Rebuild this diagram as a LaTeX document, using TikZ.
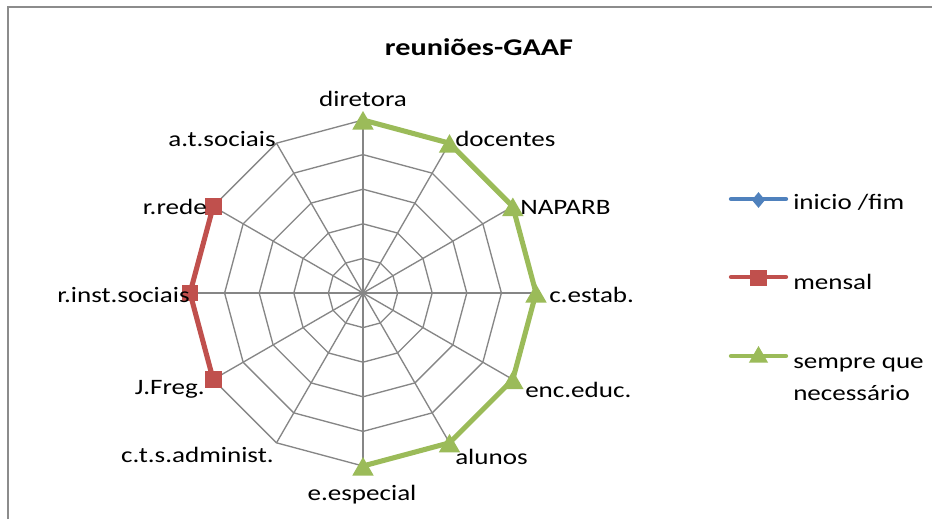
\documentclass[tikz,border=0pt]{standalone}
\usepackage{fontspec}
\setmainfont{Carlito}
\usetikzlibrary{shapes.geometric}
\definecolor{gridgray}{HTML}{868686}
\definecolor{framegray}{HTML}{8C8C8C}
\definecolor{serblue}{HTML}{4F81BD}
\definecolor{serred}{HTML}{C0504D}
\definecolor{sergreen}{HTML}{9BBB59}
\newcommand{\wtext}[1]{\scalebox{1.23}[1]{#1}}
\newcommand{\wtitle}[1]{\scalebox{1.26}[1]{#1}}
\begin{document}
\begin{tikzpicture}[x=0.75pt,y=-0.75pt,
  lbl/.style={font=\fontsize{16.5}{20}\selectfont, inner sep=0pt, text=black},
  titlestyle/.style={font=\fontsize{18}{21}\selectfont\bfseries, inner sep=0pt},
  gridline/.style={draw=gridgray, line width=1pt},
  greenline/.style={draw=sergreen, line width=3.8pt, line join=round},
  redline/.style={draw=serred, line width=3.8pt, line join=round},
  legline/.style={line width=3.2pt, line cap=round},
  tri/.style={regular polygon, regular polygon sides=3, fill=sergreen, draw=none, minimum size=18.5pt, inner sep=0pt},
  legtristyle/.style={regular polygon, regular polygon sides=3, fill=sergreen, draw=none, minimum size=16.5pt, inner sep=0pt},
  sq/.style={rectangle, fill=serred, draw=none, minimum size=12.5pt, inner sep=0pt},
  dia/.style={diamond, fill=serblue, draw=none, minimum width=10pt, minimum height=12pt, inner sep=0pt}
]
\useasboundingbox (0,0) rectangle (932,519);
\fill[white] (0,0) rectangle (932,519);
% frame
\coordinate (fb) at (8,519);
\coordinate (ftl) at (8,7);
\coordinate (fr) at (932,7);
\draw[framegray, line width=1.6pt] (fb) -- (ftl) -- (fr);
% title
\node[titlestyle, anchor=base] (title) at (479,55) {\wtitle{reuniões-GAAF}};
% chart
\begin{scope}[shift={(363,293)}, yscale=-1]
  \foreach \r in {34.6,69.2,103.8,138.4,173} {
    \draw[gridline] (0:\r) \foreach \a in {30,60,...,330} { -- (\a:\r) } -- cycle;
  }
  \foreach \a in {0,30,...,330} {
    \draw[gridline] (0,0) -- (\a:173);
  }
  \draw[draw=gridgray, line width=1.6pt] (0,0) -- (90:173);
  \coordinate (dir) at (90:173);
  \coordinate (doc) at (60:173);
  \coordinate (nap) at (30:173);
  \coordinate (ces) at (0:173);
  \coordinate (enc) at (-30:173);
  \coordinate (alu) at (-60:173);
  \coordinate (ees) at (-90:173);
  \coordinate (cts) at (-120:173);
  \coordinate (jfr) at (-150:173);
  \coordinate (ris) at (180:173);
  \coordinate (rre) at (150:173);
  \coordinate (ats) at (120:173);
\end{scope}
% series
\draw[greenline] (dir) -- (doc) -- (nap) -- (ces) -- (enc) -- (alu) -- (ees);
\draw[redline] (rre) -- (ris) -- (jfr);
\foreach \p in {dir,doc,nap,ces,enc,alu,ees} { \node[tri] (m\p) at ([yshift=-2.5pt]\p) {}; }
\foreach \p in {rre,ris,jfr} { \node[sq] (m\p) at (\p) {}; }
% axis labels
\node[lbl, anchor=base] (ldir) at (363,106) {\wtext{diretora}};
\node[lbl, anchor=base west] (ldoc) at (455,146) {\wtext{docentes}};
\node[lbl, anchor=base west] (lnap) at (520,214) {\wtext{NAPARB}};
\node[lbl, anchor=base west] (lces) at (549,302) {\wtext{c.estab.}};
\node[lbl, anchor=base west] (lenc) at (525,397) {\wtext{enc.educ.}};
\node[lbl, anchor=base west] (lalu) at (455,464) {\wtext{alunos}};
\node[lbl, anchor=base] (lees) at (362,500) {\wtext{e.especial}};
\node[lbl, anchor=base east] (lcts) at (274,462) {\wtext{c.t.s.administ.}};
\node[lbl, anchor=base east] (ljfr) at (205,394) {\wtext{J.Freg.}};
\node[lbl, anchor=base east] (lris) at (190,302) {\wtext{r.inst.sociais}};
\node[lbl, anchor=base east] (lrre) at (207,214) {\wtext{r.rede}};
\node[lbl, anchor=base east] (lats) at (276,146) {\wtext{a.t.sociais}};
% legend
\coordinate (lb1) at (731,199); \coordinate (lb2) at (786,199);
\coordinate (lr1) at (731,277); \coordinate (lr2) at (786,277);
\coordinate (lg1) at (731,356); \coordinate (lg2) at (786,356);
\draw[legline, serblue] (lb1) -- (lb2);
\draw[legline, serred] (lr1) -- (lr2);
\draw[legline, sergreen] (lg1) -- (lg2);
\node[dia] (legdia) at (758.5,200) {};
\node[sq] (legsq) at (758.5,278) {};
\node[legtristyle] (legtri) at (758.5,357) {};
\node[lbl, anchor=base west] (t1) at (793,209) {\wtext{inicio /fim}};
\node[lbl, anchor=base west] (t2) at (793,289) {\wtext{mensal}};
\node[lbl, anchor=base west] (t3) at (793,368) {\wtext{sempre que}};
\node[lbl, anchor=base west] (t4) at (793,400) {\wtext{necessário}};
\end{tikzpicture}
\end{document}
